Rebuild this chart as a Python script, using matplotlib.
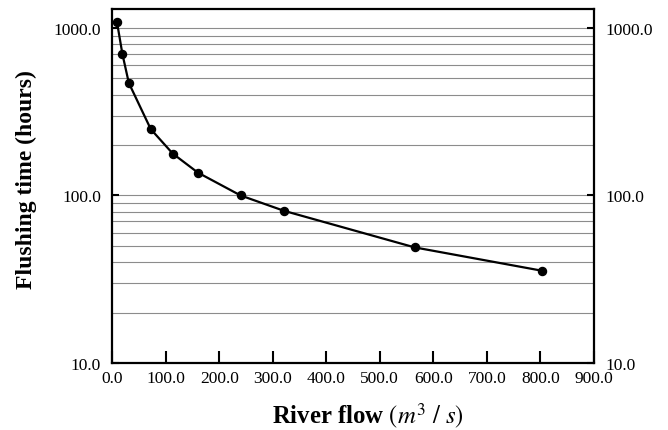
import matplotlib
matplotlib.use("Agg")
import matplotlib.pyplot as plt
from matplotlib.ticker import FixedLocator, NullFormatter, FixedFormatter

plt.rcParams['font.family'] = ['Liberation Serif', 'DejaVu Serif']
plt.rcParams['mathtext.fontset'] = 'stix'

river_flow = [9, 19, 31, 72, 113, 160, 240, 321, 565, 804]
flushing_time = [1080, 700, 470, 249, 178, 137, 100, 81, 49, 35.5]

x_ticks = [0, 100, 200, 300, 400, 500, 600, 700, 800, 900]
x_tick_labels = ["0.0", "100.0", "200.0", "300.0", "400.0", "500.0", "600.0", "700.0", "800.0", "900.0"]
y_ticks = [10, 100, 1000]
y_tick_labels = ["10.0", "100.0", "1000.0"]
y_grid = [m * d for d in (10, 100) for m in range(2, 10)] + [100, 1000]

fig = plt.figure(figsize=(6.68, 4.31), dpi=100)
ax = fig.add_axes([0.168, 0.1555, 0.721, 0.8215])

ax.set_yscale('log')
ax.set_xlim(0, 900)
ax.set_ylim(10, 1300)

for g in y_grid:
    ax.axhline(g, color='#8c8c8c', lw=0.8, zorder=1)

ax.plot(river_flow, flushing_time, color='black', lw=1.6, marker='o',
        markersize=5.8, zorder=3)

ax.xaxis.set_major_locator(FixedLocator(x_ticks))
ax.xaxis.set_major_formatter(FixedFormatter(x_tick_labels))
ax.yaxis.set_major_locator(FixedLocator(y_ticks))
ax.yaxis.set_major_formatter(FixedFormatter(y_tick_labels))
ax.yaxis.set_minor_locator(FixedLocator([]))
ax.yaxis.set_minor_formatter(NullFormatter())

ax.tick_params(axis='x', direction='in', length=9, width=1.5, labelsize=12.5, pad=5)
ax.tick_params(axis='y', direction='in', length=5, width=1.5, labelsize=12.5,
               left=True, right=True, labelleft=True, labelright=True, pad=8)

for s in ax.spines.values():
    s.set_linewidth(1.6)

ax.set_xlabel(r'River flow $(m^3\ /\ s)$', fontsize=17.8, fontweight='bold')
ax.xaxis.set_label_coords(0.531, -0.108)
ax.set_ylabel('Flushing time (hours)', fontsize=17, fontweight='bold')
ax.yaxis.set_label_coords(-0.156, 0.52)

fig.savefig('out.png', dpi=100)
